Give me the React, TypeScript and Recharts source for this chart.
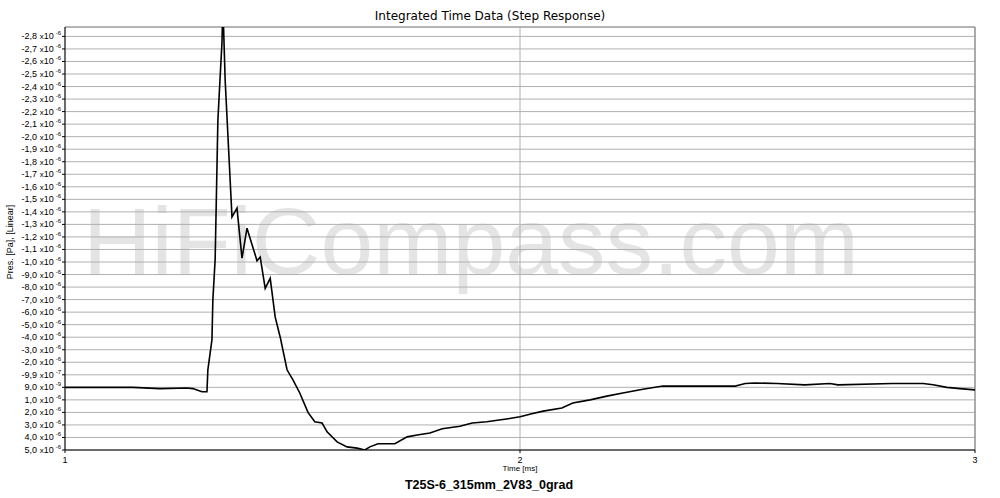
import React from 'react';
import { LineChart, Line, XAxis, YAxis, CartesianGrid, ReferenceLine } from 'recharts';

// Time in ms
const timeMs = [
  1.0, 1.149, 1.209, 1.268, 1.281, 1.301, 1.312, 1.314, 1.323, 1.325, 1.33, 1.336, 1.341, 1.345, 1.347,
  1.352, 1.367, 1.378, 1.389, 1.4, 1.422, 1.429, 1.44, 1.451, 1.462, 1.473, 1.488, 1.501, 1.516,
  1.534, 1.549, 1.565, 1.576, 1.598, 1.62, 1.642, 1.659, 1.67, 1.688, 1.725, 1.752, 1.774, 1.802,
  1.829, 1.868, 1.895, 1.927, 1.974, 2.0, 2.026, 2.051, 2.092, 2.116, 2.154, 2.191, 2.226, 2.27,
  2.314, 2.352, 2.473, 2.495, 2.516, 2.565, 2.626, 2.681, 2.699, 2.818, 2.886, 2.908, 2.938, 2.967, 3.0,
];

// Pressure in units of 1e-7 Pa (axis is drawn with negative values up)
const pressure = [
  0.0, 0.0, 0.1, 0.05, 0.1, 0.35, 0.35, -1.4, -3.8, -7.0, -10.2, -21.3, -24.8, -27.5, -30.5,
  -24.5, -13.6, -14.3, -10.3, -12.7, -10.1, -10.4, -7.9, -8.7, -5.6, -4.0, -1.4, -0.6, 0.45,
  2.0, 2.75, 2.85, 3.55, 4.35, 4.75, 4.85, 5.0, 4.75, 4.5, 4.5, 3.95, 3.8, 3.65,
  3.3, 3.1, 2.85, 2.75, 2.5, 2.35, 2.1, 1.9, 1.65, 1.25, 1.0, 0.7, 0.45, 0.15,
  -0.1, -0.1, -0.1, -0.3, -0.35, -0.3, -0.2, -0.3, -0.2, -0.3, -0.3, -0.2, 0.0, 0.1, 0.2,
];

const yTickValues = [
  -28, -27, -26, -25, -24, -23, -22, -21, -20, -19, -18, -17, -16, -15, -14, -13, -12, -11, -10,
  -9, -8, -7, -6, -5, -4, -3, -2, -1, 0, 1, 2, 3, 4, 5,
];
const yTickMantissa = [
  '-2,8', '-2,7', '-2,6', '-2,5', '-2,4', '-2,3', '-2,2', '-2,1', '-2,0', '-1,9', '-1,8', '-1,7',
  '-1,6', '-1,5', '-1,4', '-1,3', '-1,2', '-1,1', '-1,0',
  '-9,0', '-8,0', '-7,0', '-6,0', '-5,0', '-4,0', '-3,0', '-2,0', '-9,9', '9,0',
  '1,0', '2,0', '3,0', '4,0', '5,0',
];
const yTickExponent = [
  '-6', '-6', '-6', '-6', '-6', '-6', '-6', '-6', '-6', '-6', '-6', '-6', '-6', '-6', '-6', '-6', '-6', '-6', '-6',
  '-6', '-6', '-6', '-6', '-6', '-6', '-6', '-6', '-7', '-9',
  '-6', '-6', '-6', '-6', '-6',
];
const xTickValues = [1, 2, 3];

const data = timeMs.map((t, i) => ({ t, p: pressure[i] }));

const FONT = '"Liberation Sans", Arial, sans-serif';

const YTick = (props: any) => {
  const { x, y, payload } = props;
  const i = yTickValues.indexOf(payload.value);
  return (
    <text x={x + 1} y={y + 3} textAnchor="end" fontFamily={FONT} fontSize={9} fill="#000">
      {yTickMantissa[i]} <tspan fontSize={8}>x</tspan>10
      <tspan dy={-4} dx={2} fontSize={6}>{yTickExponent[i]}</tspan>
    </text>
  );
};

const XTick = (props: any) => {
  const { x, y, payload } = props;
  return (
    <text x={x} y={y + 8} textAnchor="middle" fontFamily={FONT} fontSize={9} fill="#000">
      {payload.value}
    </text>
  );
};

export default function App() {
  return (
    <div style={{ position: 'absolute', left: 0, top: 0, width: 1000, height: 498, background: '#fff', overflow: 'hidden' }}>
      <svg width={1000} height={498} style={{ position: 'absolute', left: 0, top: 0 }}>
        <text x={471} y={274} textAnchor="middle" fontFamily={FONT} fontSize={95} fill="#e4e4e4">
          HiFiCompass.com
        </text>
        <text x={490} y={20} textAnchor="middle" fontFamily='"DejaVu Sans", Verdana, sans-serif' fontSize={12} fill="#000">
          Integrated Time Data (Step Response)
        </text>
        <text x={520} y={471} textAnchor="middle" fontFamily={FONT} fontSize={8} fill="#000">
          Time [ms]
        </text>
        <text x={489} y={489} textAnchor="middle" fontFamily={FONT} fontSize={12.5} fontWeight="bold" fill="#000">
          T25S-6_315mm_2V83_0grad
        </text>
        <text
          x={0}
          y={0}
          transform="translate(13,242) rotate(-90)"
          textAnchor="middle"
          fontFamily={FONT}
          fontSize={9}
          fill="#000"
        >
          Pres. [Pa], [Linear]
        </text>
      </svg>
      <div style={{ position: 'absolute', left: 0, top: 0 }}>
        <LineChart width={1000} height={498} data={data} margin={{ top: 27, right: 25, bottom: 28, left: 8 }}>
          <CartesianGrid stroke="#b0b0b0" strokeWidth={1} horizontal vertical />
          <XAxis
            dataKey="t"
            type="number"
            domain={[1, 3]}
            ticks={xTickValues}
            height={20}
            axisLine={{ stroke: '#000' }}
            tickLine={{ stroke: '#000' }}
            tickSize={3}
            tick={<XTick />}
            interval={0}
          />
          <YAxis
            type="number"
            domain={[-28.75, 5]}
            reversed
            allowDataOverflow
            ticks={yTickValues}
            width={57}
            axisLine={{ stroke: '#000' }}
            tickLine={{ stroke: '#000' }}
            tickSize={3}
            tickMargin={2}
            tick={<YTick />}
            interval={0}
          />
          <ReferenceLine y={-28.75} stroke="#909090" ifOverflow="extendDomain" />
          <ReferenceLine x={3} stroke="#808080" />
          <Line
            type="linear"
            dataKey="p"
            stroke="#000"
            strokeWidth={1.6}
            dot={false}
            isAnimationActive={false}
          />
        </LineChart>
      </div>
    </div>
  );
}
